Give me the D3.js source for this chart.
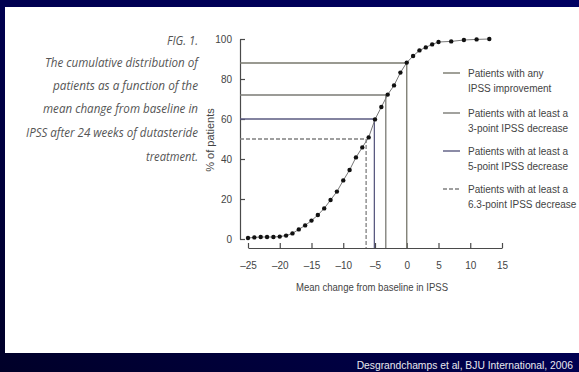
<!DOCTYPE html>
<html><head><meta charset="utf-8">
<script src="https://cdn.jsdelivr.net/npm/d3@7"></script>
<style>
html,body{margin:0;padding:0;background:#000040;}
svg{display:block;}
</style></head>
<body>
<svg id="chart" width="579" height="372"></svg>
<script>
// ---- data ----
const xValues = [-25,-24,-23,-22,-21,-20,-19,-18,-17,-16,-15,-14,-13,-12,-11,-10,-9,-8,-7,-6,-5,-4,-3,-2,-1,0,1,2,3,4,5,7,9,11,13];
const yValues = [0.5,0.8,1,1,1,1.2,1.7,2.8,4.8,6.8,9.2,12,15.3,19.5,23.7,29.3,34.5,40.8,45.8,50.8,59.8,66,72.2,76.8,83.2,88.2,91.5,94.3,95.8,97.3,98.5,98.8,99.5,99.8,100];
const refNames = ["any", "3-point", "5-point", "6.3-point"];
const refX = [0, -3.3, -5.1, -6.4];
const refY = [88, 72, 60, 50];
const legendLine1 = ["Patients with any", "Patients with at least a", "Patients with at least a", "Patients with at least a"];
const legendLine2 = ["IPSS improvement", "3-point IPSS decrease", "5-point IPSS decrease", "6.3-point IPSS decrease"];
const xTicks = [-25,-20,-15,-10,-5,0,5,10,15];
const yTicks = [0,20,40,60,80,100];
const captionLines = ["FIG. 1.", "The cumulative distribution of", "patients as a function of the", "mean change from baseline in", "IPSS after 24 weeks of dutasteride", "treatment."];
const xTitle = "Mean change from baseline in IPSS";
const yTitle = "% of patients";
const sourceText = "Desgrandchamps et al, BJU International, 2006";

// ---- drawing ----
const svg = d3.select("#chart");
const defs = svg.append("defs");
const grad = defs.append("linearGradient").attr("id","bg").attr("x1","1").attr("y1","0").attr("x2","0").attr("y2","1");
grad.append("stop").attr("offset","0").attr("stop-color","#000062");
grad.append("stop").attr("offset","0.5").attr("stop-color","#000050");
grad.append("stop").attr("offset","1").attr("stop-color","#000028");
svg.append("rect").attr("width",579).attr("height",372).attr("fill","url(#bg)");
svg.append("rect").attr("x",5).attr("y",7).attr("width",574).attr("height",346).attr("fill","#ffffff");

const narrow = "'Liberation Sans Narrow', 'Arial Narrow', 'Liberation Sans', Arial, sans-serif";

const x = d3.scaleLinear().domain([-25,15]).range([248,502]);
const y = d3.scaleLinear().domain([0,100]).range([239,39]);

const axisColor = "#4a4a4a";
const gy = svg.append("g").attr("transform","translate(240,0)")
  .call(d3.axisLeft(y).tickValues(yTicks).tickSize(-5).tickSizeOuter(0).tickPadding(8));
const gx = svg.append("g").attr("transform","translate(0,248)")
  .call(d3.axisBottom(x).tickValues(xTicks).tickSize(-5).tickSizeOuter(0).tickPadding(14)
    .tickFormat(d => d < 0 ? "\u2013" + Math.abs(d) : String(d)));
[gy,gx].forEach(g => {
  g.selectAll("path,line").attr("stroke",axisColor).attr("stroke-width",1.2);
  g.selectAll("text").attr("fill","#444").style("font-family",narrow).style("font-size","10px");
});

// axis titles
svg.append("text").attr("x",372).attr("y",291).attr("text-anchor","middle")
  .attr("textLength",152).attr("lengthAdjust","spacingAndGlyphs")
  .style("font-family",narrow).style("font-size","10.5px").attr("fill","#444").text(xTitle);
svg.append("text").attr("transform","translate(214,140) rotate(-90)").attr("text-anchor","middle")
  .style("font-family",narrow).style("font-size","11px").attr("fill","#444").text(yTitle);

// reference lines
const refColors = ["#77776c","#7a7a74","#5a5a80","#808080"];
const refDash = [null,null,null,"4,2"];
refX.forEach((rx,i) => {
  svg.append("line").attr("x1",x.range()[0]-8).attr("x2",x(rx)).attr("y1",y(refY[i])).attr("y2",y(refY[i]))
    .attr("stroke",refColors[i]).attr("stroke-width",1.3).attr("stroke-dasharray",refDash[i]);
  svg.append("line").attr("x1",x(rx)).attr("x2",x(rx)).attr("y1",y(refY[i])).attr("y2",248)
    .attr("stroke",refColors[i]).attr("stroke-width",1.3).attr("stroke-dasharray",refDash[i]);
});

// curve
const pts = xValues.map((v,i) => [v, yValues[i]]);
svg.append("path").datum(pts)
  .attr("d", d3.line().x(d => x(d[0])).y(d => y(d[1])))
  .attr("fill","none").attr("stroke","#777").attr("stroke-width",1);
svg.append("g").selectAll("circle").data(pts).join("circle")
  .attr("cx", d => x(d[0])).attr("cy", d => y(d[1])).attr("r",2.2).attr("fill","#111");

// legend
const legY = [73,113,151,189];
refNames.forEach((n,i) => {
  svg.append("line").attr("x1",443).attr("x2",460).attr("y1",legY[i]).attr("y2",legY[i])
    .attr("stroke",refColors[i]).attr("stroke-width",1.4).attr("stroke-dasharray",refDash[i]);
  const t = svg.append("text").attr("x",468).attr("y",legY[i]+3.5)
    .style("font-family",narrow).style("font-size","10px").attr("fill","#444");
  t.append("tspan").attr("x",468).text(legendLine1[i]);
  t.append("tspan").attr("x",468).attr("dy",15.5).text(legendLine2[i]);
});

// caption
const capY = [45,67,90,113,137,161];
const capW = [31,153,145,155,172,52];
captionLines.forEach((s,i) => {
  svg.append("text").attr("x",198).attr("y",capY[i]).attr("text-anchor","end")
    .attr("textLength",capW[i]).attr("lengthAdjust","spacingAndGlyphs")
    .style("font-family","'Open Sans', 'DejaVu Sans', sans-serif").style("font-style","italic")
    .style("font-size","12.5px").attr("fill","#555").text(s);
});

// source
svg.append("text").attr("x",573).attr("y",369).attr("text-anchor","end")
  .style("font-family","'Liberation Sans', Arial, sans-serif").style("font-size","10.3px")
  .attr("fill","#e8e8f0").text(sourceText);
</script>
</body></html>
